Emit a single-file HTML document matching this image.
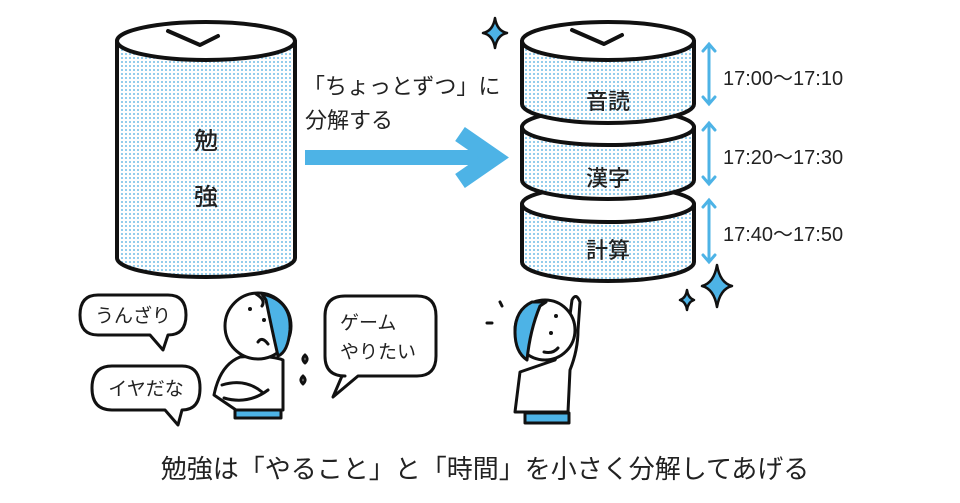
<!DOCTYPE html>
<html><head><meta charset="utf-8"><style>
html,body{margin:0;padding:0;background:#fff;}
svg{display:block;}
text{font-family:"Liberation Sans","Noto Sans CJK JP",sans-serif;fill:#222;}
</style></head><body>
<svg width="960" height="503" viewBox="0 0 960 503" xmlns="http://www.w3.org/2000/svg">
<defs>
<pattern id="dots" width="4" height="4" patternUnits="userSpaceOnUse">
<rect width="4" height="4" fill="#fff"/>
<rect x="1" y="1" width="2" height="2" fill="#93cdec"/>
</pattern>
</defs>
<g stroke="#111" stroke-width="4" stroke-linejoin="round" stroke-linecap="round">
<path d="M117 41 L117 258 A89 19 0 0 0 295 258 L295 41" fill="url(#dots)"/>
<ellipse cx="206" cy="41" rx="89" ry="19" fill="#fff"/>
<polyline points="168,31 200,45 218,36" fill="none"/>
<path d="M522 204 L522 262 A86 19 0 0 0 694 262 L694 204" fill="url(#dots)"/>
<ellipse cx="608" cy="204" rx="86" ry="18" fill="#fff"/>
<path d="M522 127 L522 180 A86 19 0 0 0 694 180 L694 127" fill="url(#dots)"/>
<ellipse cx="608" cy="127" rx="86" ry="18" fill="#fff"/>
<path d="M522 41 L522 104 A86 19 0 0 0 694 104 L694 41" fill="url(#dots)"/>
<ellipse cx="608" cy="41" rx="86" ry="19" fill="#fff"/>
<polyline points="572,30 604,44 622,35" fill="none"/>
</g>
<text x="206" y="149" font-size="24" font-weight="500" text-anchor="middle">勉</text>
<text x="206" y="205" font-size="24" font-weight="500" text-anchor="middle">強</text>
<text x="608" y="109" font-size="22" font-weight="500" text-anchor="middle">音読</text>
<text x="608" y="186" font-size="22" font-weight="500" text-anchor="middle">漢字</text>
<text x="608" y="258" font-size="22" font-weight="500" text-anchor="middle">計算</text>
<rect x="305" y="150" width="185" height="15" fill="#4db3e6"/>
<polyline points="460,134 494,157.5 460,181" fill="none" stroke="#4db3e6" stroke-width="17" stroke-linejoin="miter"/>
<text x="303" y="94" font-size="22">「ちょっとずつ」に</text>
<text x="305" y="128" font-size="22">分解する</text>
<g stroke="#4db3e6" stroke-width="3" fill="none" stroke-linecap="round">
<line x1="709" y1="45" x2="709" y2="103"/><polyline points="703,51 709,44 715,51"/><polyline points="703,97 709,104 715,97"/>
<line x1="709" y1="124" x2="709" y2="183"/><polyline points="703,130 709,123 715,130"/><polyline points="703,177 709,184 715,177"/>
<line x1="709" y1="201" x2="709" y2="261"/><polyline points="703,207 709,200 715,207"/><polyline points="703,255 709,262 715,255"/>
</g>
<text x="723" y="85" font-size="20">17:00〜17:10</text>
<text x="723" y="164" font-size="20">17:20〜17:30</text>
<text x="723" y="241" font-size="20">17:40〜17:50</text>
<g fill="#4db3e6" stroke="#111" stroke-width="2.5" stroke-linejoin="round">
<path d="M495 18 Q497 31 507 33 Q497 35 495 48 Q493 35 483 33 Q493 31 495 18Z"/>
<path d="M717 265 Q720 283 732 286 Q720 289 717 307 Q714 289 702 286 Q714 283 717 265Z"/>
<path d="M687 290 Q688 298 694 300 Q688 302 687 310 Q686 302 680 300 Q686 298 687 290Z"/>
</g>
<g stroke="#111" stroke-width="3" fill="#fff" stroke-linejoin="round">
<path d="M98 295 H168 Q186 295 186 315 Q186 335 168 335 H168 L163 350 L150 335 H98 Q80 335 80 315 Q80 295 98 295Z"/>
<path d="M112 366 H182 Q200 366 200 388 Q200 410 182 410 L178 425 L165 410 H112 Q92 410 92 388 Q92 366 112 366Z"/>
<path d="M345 296 H417 Q436 296 436 316 V356 Q436 376 417 376 H358 L333 397 L342 376 H345 Q325 376 325 356 V316 Q325 296 345 296Z"/>
</g>
<text x="133" y="322" font-size="19" text-anchor="middle">うんざり</text>
<text x="146" y="395" font-size="19" text-anchor="middle">イヤだな</text>
<text x="340" y="329" font-size="19">ゲーム</text>
<text x="340" y="358" font-size="19">やりたい</text>
<g stroke="#111" stroke-width="3" stroke-linejoin="round" stroke-linecap="round">
<rect x="235" y="408" width="46" height="10" fill="#4db3e6"/>
<path d="M240 357 Q220 365 214 395 L236 410 L283 410 L283 360 Q270 355 240 357Z" fill="#fff"/>
<path d="M222 385 Q245 378 262 392 M224 398 Q248 405 268 390" fill="none"/>
<circle cx="258" cy="326" r="33" fill="#fff"/>
<path d="M262 294 Q292 300 290 330 Q288 352 278 356 Q272 330 266 300Z" fill="#4db3e6"/>
<path d="M256 294 Q266 300 262 306" fill="none"/>
<path d="M258 342 Q262 336 268 344" fill="none"/>
<path d="M305 355 q4 4 0 8 q-4 -4 0 -8Z M303 376 q4 4 0 8 q-4 -4 0 -8Z" fill="#fff"/>
</g>
<circle cx="250" cy="309" r="2" fill="#111"/><circle cx="264" cy="320" r="2" fill="#111"/>
<g stroke="#111" stroke-width="3" stroke-linejoin="round" stroke-linecap="round">
<rect x="525" y="413" width="44" height="10" fill="#4db3e6"/>
<path d="M520 372 L515 412 L568 412 L570 370 Q578 350 578 330 L580 302 Q576 292 572 300 L568 330 L555 360 Z" fill="#fff"/>
<circle cx="545" cy="330" r="30" fill="#fff"/>
<path d="M532 302 Q515 310 515 332 Q515 352 527 360 Q530 330 540 306 L546 302Z" fill="#4db3e6"/>
<path d="M544 352 Q553 354 558 348" fill="none"/>
<path d="M487 323 L492 323 M500 302 L502 306" fill="none"/>
</g>
<circle cx="551" cy="333" r="2" fill="#111"/><circle cx="556" cy="316" r="2" fill="#111"/>
<text x="485" y="478" font-size="26" text-anchor="middle">勉強は「やること」と「時間」を小さく分解してあげる</text>
</svg>
</body></html>
